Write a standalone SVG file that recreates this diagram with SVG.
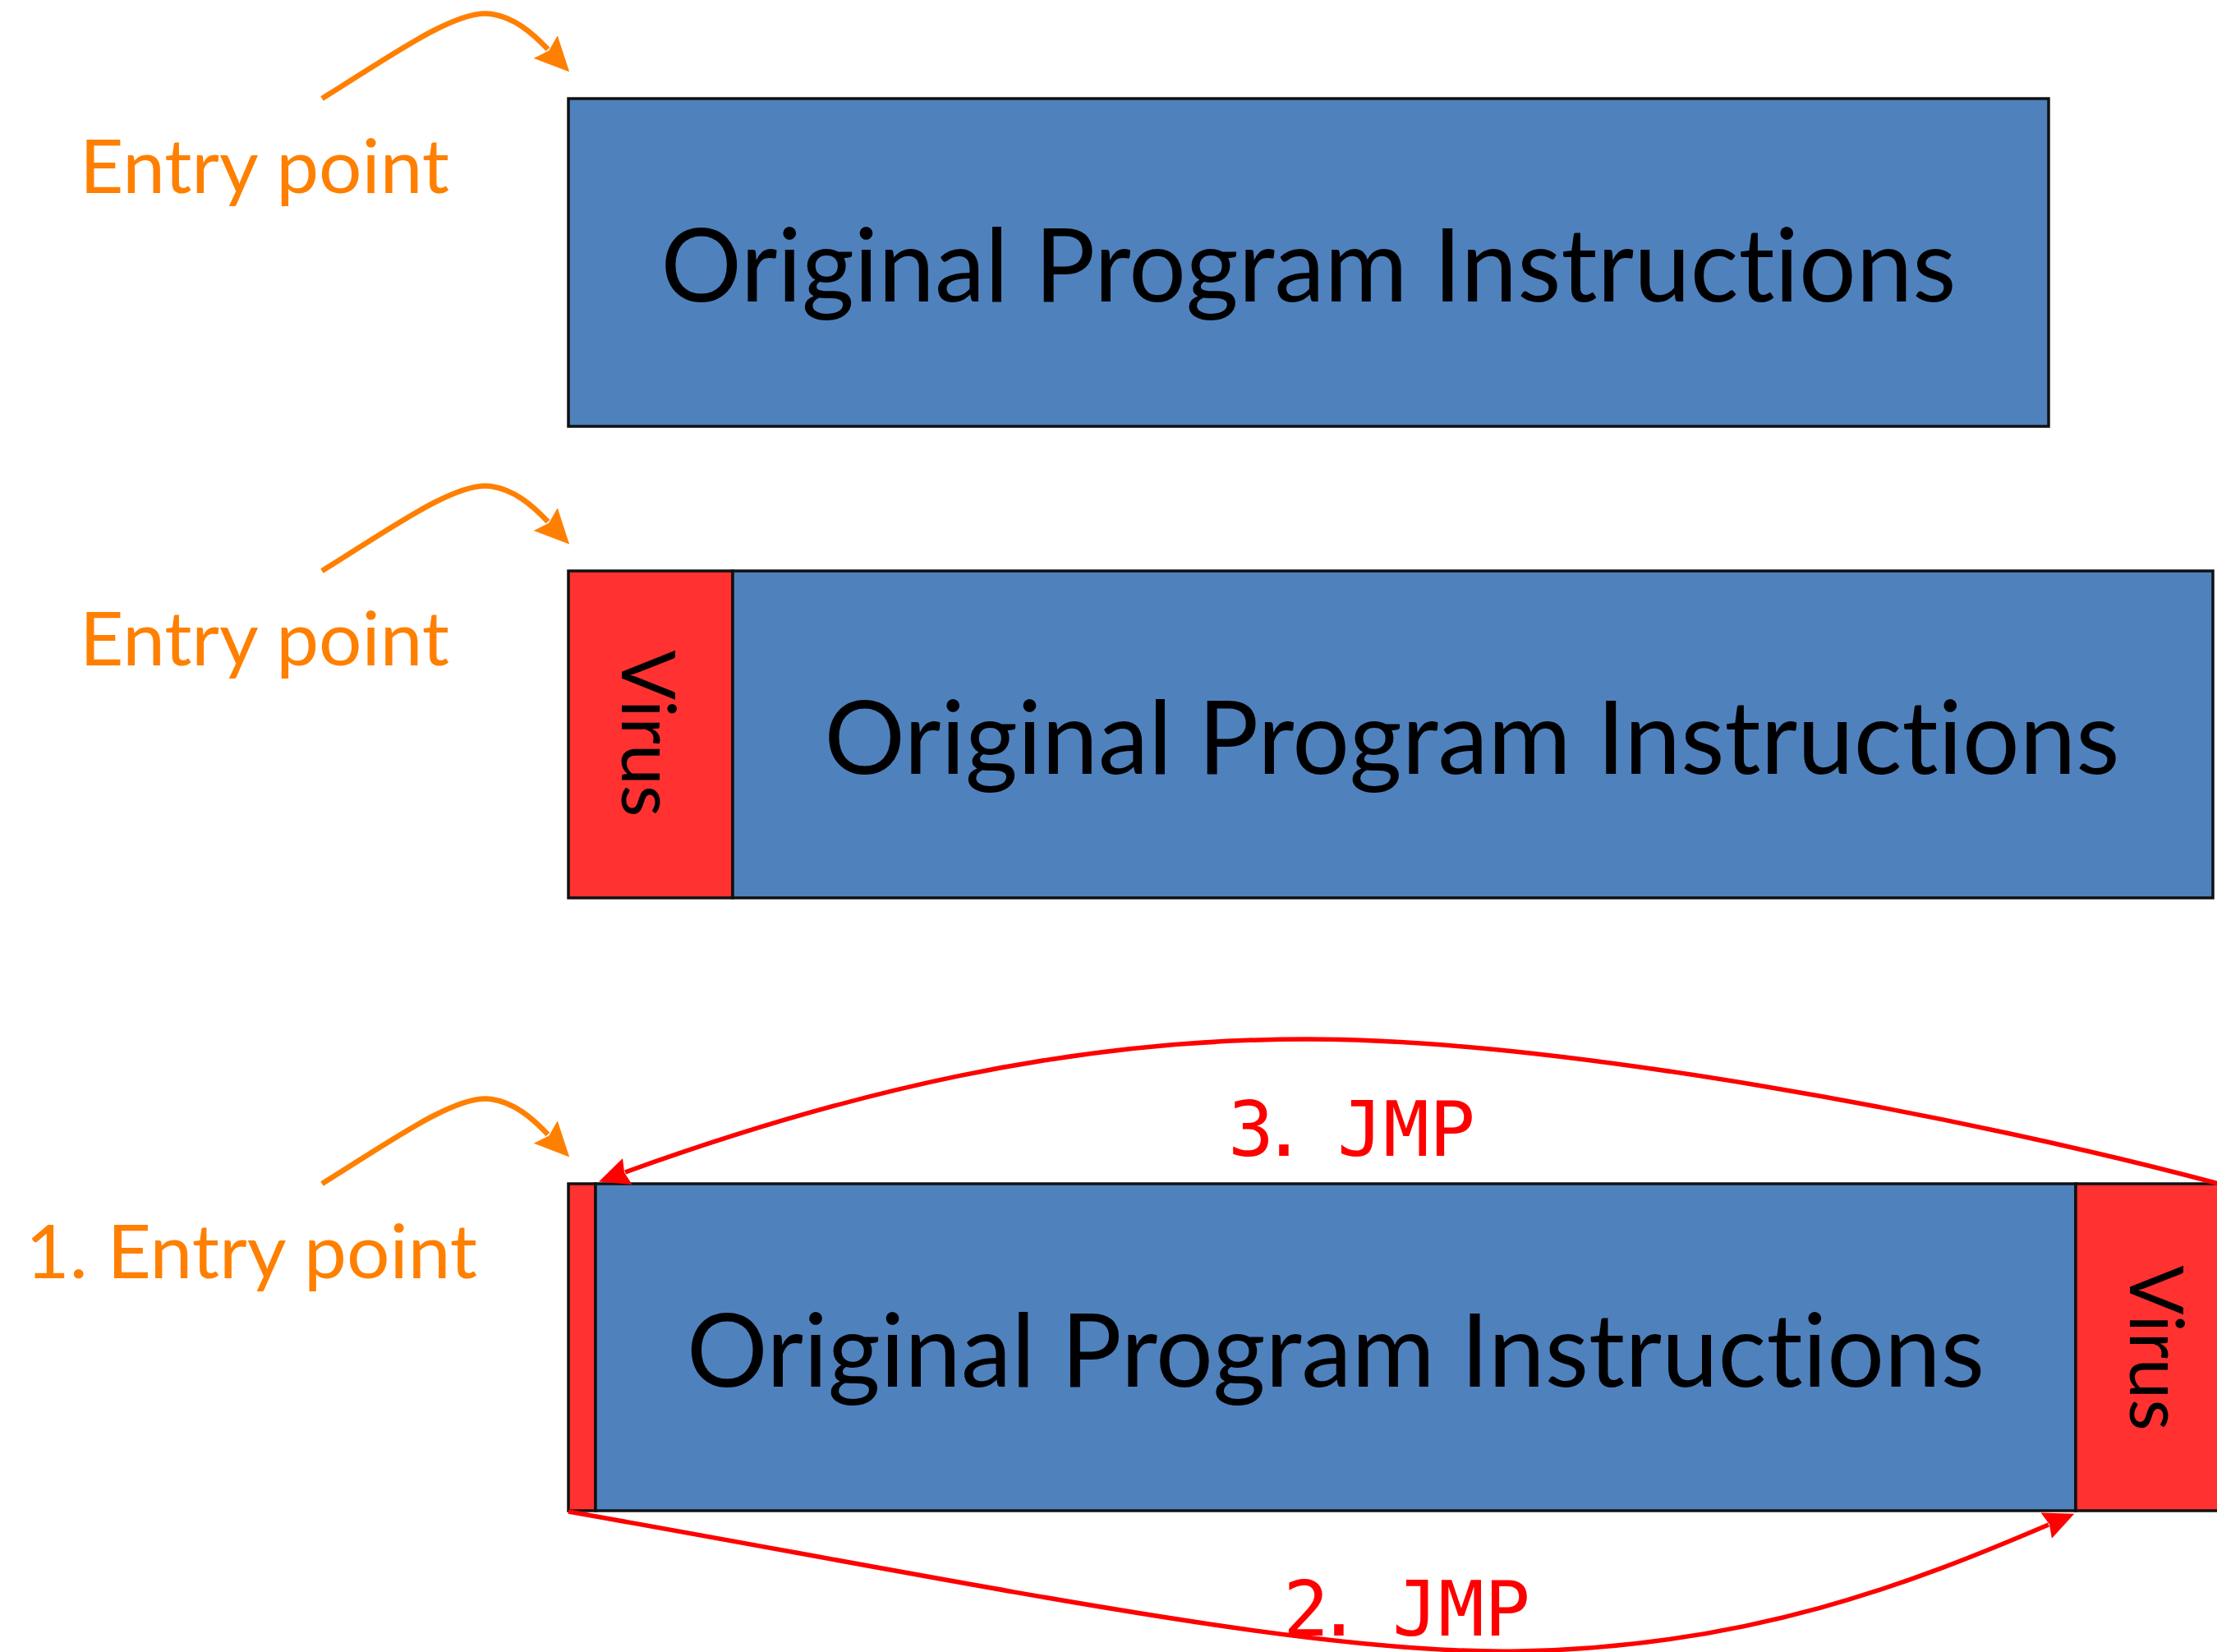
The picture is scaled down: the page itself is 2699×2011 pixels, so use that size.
<svg xmlns="http://www.w3.org/2000/svg" width="2699" height="2011" viewBox="0 0 2699 2011">
  <style>
    text { font-variant-ligatures: none; font-feature-settings: "liga" 0, "clig" 0; }
    .blue { fill: #4F81BD; stroke: #111; stroke-width: 3.5; }
    .virus { fill: #FF3131; stroke: #111; stroke-width: 3.5; }
    .big { font-family: Lato, "Open Sans", sans-serif; font-size: 125px; fill: #000; }
    .vir { font-family: Lato, "Open Sans", sans-serif; font-size: 91px; fill: #000; }
    .entry { font-family: Lato, "Open Sans", sans-serif; font-size: 91px; fill: #FF8000; }
    .jmp { font-family: "DejaVu Sans Mono", monospace; font-size: 93px; fill: #FF0000; }
    .orange { fill: none; stroke: #FF8000; stroke-width: 6.5; }
    .red { fill: none; stroke: #FF0000; stroke-width: 5.5; }
  </style>
  <defs>
    <marker id="ahOrange" markerUnits="userSpaceOnUse" markerWidth="44" markerHeight="42" refX="4" refY="20" orient="auto" viewBox="0 0 44 40">
      <path d="M0,0 L42,20 L0,40 L6,20 Z" fill="#FF8000"/>
    </marker>
    <marker id="ahRed" markerUnits="userSpaceOnUse" markerWidth="40" markerHeight="36" refX="3" refY="17" orient="auto" viewBox="0 0 40 34">
      <path d="M0,0 L37,17 L0,34 L4,17 Z" fill="#FF0000"/>
    </marker>
  </defs>
  <rect width="2699" height="2011" fill="#FFFFFF"/>

  <g id="row1">
    <rect class="blue" x="692" y="120" width="1802" height="399"/>
    <text class="big" x="1593" y="367" text-anchor="middle" textLength="1577" lengthAdjust="spacingAndGlyphs">Original Program Instructions</text>
  </g>
  <g id="entry1">
    <text class="entry" x="97" y="235" textLength="450" lengthAdjust="spacingAndGlyphs">Entry point</text>
  </g>

  <g id="row2">
    <rect class="virus" x="692" y="695" width="200" height="398"/>
    <rect class="blue" x="892" y="695" width="1802" height="398"/>
    <text class="vir" transform="translate(757,893) rotate(90)" text-anchor="middle" textLength="203" lengthAdjust="spacingAndGlyphs">Virus</text>
    <text class="big" x="1792" y="942" text-anchor="middle" textLength="1577" lengthAdjust="spacingAndGlyphs">Original Program Instructions</text>
  </g>
  <g id="entry2">
    <text class="entry" x="97" y="810" textLength="450" lengthAdjust="spacingAndGlyphs">Entry point</text>
  </g>

  <g id="row3">
    <rect class="virus" x="692" y="1441" width="33" height="398"/>
    <rect class="blue" x="725" y="1441" width="1802" height="398"/>
    <rect class="virus" x="2527" y="1441" width="220" height="398"/>
    <text class="big" x="1626" y="1688" text-anchor="middle" textLength="1580" lengthAdjust="spacingAndGlyphs">Original Program Instructions</text>
    <text class="vir" transform="translate(2593,1641) rotate(90)" text-anchor="middle" textLength="201" lengthAdjust="spacingAndGlyphs">Virus</text>
  </g>
  <g id="entry3">
    <text class="entry" x="31" y="1556" textLength="550" lengthAdjust="spacingAndGlyphs">1. Entry point</text>
  </g>

  <g id="connectors">
    <path class="orange" d="M392,120 C470,72 555,10 598,17 C626,21 648,40 667,60" marker-end="url(#ahOrange)"/>
    <path class="orange" d="M392,695 C470,647 555,585 598,592 C626,596 648,615 667,635" marker-end="url(#ahOrange)"/>
    <path class="orange" d="M392,1441 C470,1393 555,1331 598,1338 C626,1342 648,1361 667,1381" marker-end="url(#ahOrange)"/>
    <path class="red" d="M2705,1442 C2400,1360 1900,1265 1591,1265 C1300,1265 1030,1330 761,1427" marker-end="url(#ahRed)"/>
    <path class="red" d="M692,1840 C1200,1930 1600,2015 1850,2010 C2130,2005 2330,1926 2494,1856" marker-end="url(#ahRed)"/>
  </g>

  <g id="jmp-labels">
    <text class="jmp" x="1495 1535" y="1407">3.</text>
    <text class="jmp" x="1628" y="1407">JMP</text>
    <text class="jmp" x="1562 1602" y="1991">2.</text>
    <text class="jmp" x="1695" y="1991">JMP</text>
  </g>
</svg>
